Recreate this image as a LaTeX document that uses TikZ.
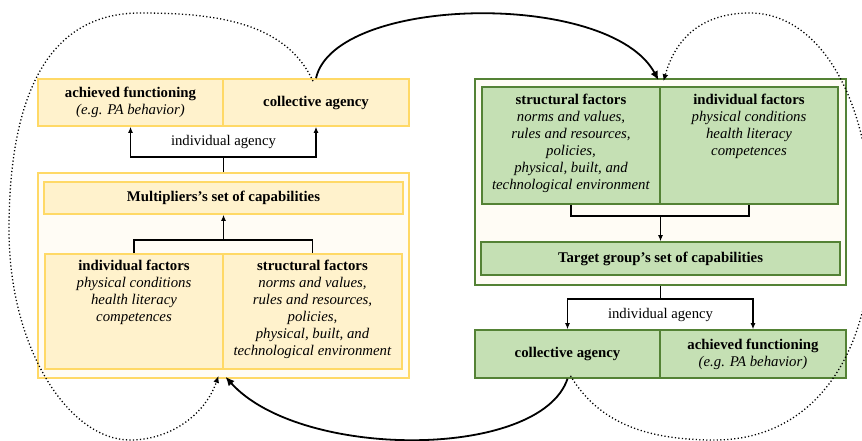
\documentclass[tikz,border=0pt]{standalone}
\usepackage{fontspec}
\setmainfont{Liberation Serif}
\usetikzlibrary{arrows.meta,calc}
\definecolor{yfill}{HTML}{FFF2CC}
\definecolor{yline}{HTML}{FFD966}
\definecolor{cream}{HTML}{FFFCF5}
\definecolor{gfill}{HTML}{C5E0B4}
\definecolor{gline}{HTML}{548235}
\tikzset{
  ybox/.style={draw=yline,fill=yfill,line width=1.6pt,inner sep=0pt},
  ycont/.style={draw=yline,fill=cream,line width=1.6pt,inner sep=0pt},
  gbox/.style={draw=gline,fill=gfill,line width=1.6pt,inner sep=0pt},
  gcont/.style={draw=gline,fill=cream,line width=1.6pt,inner sep=0pt},
  txt/.style={align=center,inner sep=1pt,font=\fontsize{14.8}{17}\selectfont},
  conn/.style={line width=1.3pt},
  arr/.style={line width=1.1pt,-{Latex[length=6pt,width=5pt]}},
  bigarr/.style={line width=1.8pt,-{Latex[length=9pt,width=8pt]}},
  dotarr/.style={line width=1.3pt,dash pattern=on 1.2pt off 2.3pt,-{Latex[length=7pt,width=6pt]}},
  lbl/.style={fill=white,inner sep=1pt,font=\fontsize{14.7}{15}\selectfont}
}
\begin{document}
\begin{tikzpicture}[x=1pt,y=-1pt]
\useasboundingbox (0,0) rectangle (862,440);
\clip (0,0) rectangle (862,440);
% ---------- left (multipliers) ----------
\node[ycont,minimum width=371pt,minimum height=205pt] (lout) at (223.5,275.5) {};
\node[ybox,minimum width=359pt,minimum height=32pt] (mult) at (223.5,198) {};
\node[txt] (multt) at (mult.center) {\textbf{Multipliers’s set of capabilities}};
\node[ybox,minimum width=178pt,minimum height=115pt] (lif) at (134,311.5) {};
\node[ybox,minimum width=179pt,minimum height=115pt] (lsf) at (312.5,311.5) {};
\node[txt,anchor=north] (lift) at ([yshift=-6pt]lif.north) {\textbf{individual factors}\\\textit{physical conditions}\\\textit{health literacy}\\\textit{competences}};
\node[txt,anchor=north] (lsft) at ([yshift=-6pt]lsf.north) {\textbf{structural factors}\\\textit{norms and values,}\\\textit{rules and resources,}\\\textit{policies,}\\\textit{physical, built, and}\\\textit{technological environment}};
\node[ybox,minimum width=185pt,minimum height=47pt] (af) at (130.5,102.5) {};
\node[txt] (aft) at (af.center) {\textbf{achieved functioning}\\\textit{(e.g. PA behavior)}};
\node[ybox,minimum width=186pt,minimum height=47pt] (ca) at (316,102.5) {};
\node[txt] (cat) at (ca.center) {\textbf{collective agency}};
% left connectors
\coordinate (lb) at (223.5,240);
\draw[conn] (lif.north) |- (lb) -| (lsf.north);
\draw[arr] (lb) -- (mult.south);
\coordinate (lj) at (223.5,157);
\draw[conn] (lout.north) -- (lj);
\draw[arr] (lj) -| (af.south);
\draw[arr] (lj) -| (ca.south);
\node[lbl] (la) at (223.5,142) {individual agency};
% ---------- right (target group) ----------
\node[gcont,minimum width=371pt,minimum height=206pt] (rout) at (660.5,182) {};
\node[gbox,minimum width=178pt,minimum height=117pt] (rsf) at (571,145.5) {};
\node[gbox,minimum width=178pt,minimum height=117pt] (rif) at (749,145.5) {};
\node[txt,anchor=north] (rsft) at ([yshift=-7pt]rsf.north) {\textbf{structural factors}\\\textit{norms and values,}\\\textit{rules and resources,}\\\textit{policies,}\\\textit{physical, built, and}\\\textit{technological environment}};
\node[txt,anchor=north] (rift) at ([yshift=-7pt]rif.north) {\textbf{individual factors}\\\textit{physical conditions}\\\textit{health literacy}\\\textit{competences}};
\node[gbox,minimum width=359pt,minimum height=33pt] (tgt) at (660.5,258.5) {};
\node[txt] (tgtt) at (tgt.center) {\textbf{Target group’s set of capabilities}};
\node[gbox,minimum width=185pt,minimum height=48pt] (rca) at (567.5,354) {};
\node[txt] (rcat) at (rca.center) {\textbf{collective agency}};
\node[gbox,minimum width=186pt,minimum height=48pt] (raf) at (753,354) {};
\node[txt] (raft) at (raf.center) {\textbf{achieved functioning}\\\textit{(e.g. PA behavior)}};
% right connectors
\coordinate (rb) at (660.5,216);
\draw[conn] (rsf.south) |- (rb) -| (rif.south);
\draw[arr] (rb) -- (tgt.north);
\coordinate (rj) at (660.5,299);
\draw[conn] (rout.south) -- (rj);
\draw[arr] (rj) -| (rca.north);
\draw[arr] (rj) -| (raf.north);
\node[lbl] (ra) at (660.5,315) {individual agency};
% ---------- curved arrows ----------
\draw[bigarr] (ca.north) .. controls (335,-5) and (610,-10) .. ([xshift=-2pt,yshift=-2pt]rout.north);
\draw[bigarr] (rca.south) .. controls (540,460) and (300,460) .. ([xshift=2pt,yshift=2pt]lout.south);
\draw[dotarr] ([xshift=-3pt,yshift=-3pt]ca.north) .. controls (285,20) and (210,13) .. (140,13)
  .. controls (40,13) and (9,110) .. (9,230)
  .. controls (9,350) and (70,440) .. (130,440)
  .. controls (170,440) and (205,415) .. ([xshift=-5pt,yshift=3pt]lout.south);
\draw[dotarr] ([xshift=3pt,yshift=3pt]rca.south) .. controls (600,425) and (650,440) .. (715,440)
  .. controls (810,440) and (872,360) .. (872,230)
  .. controls (872,100) and (820,13) .. (750,13)
  .. controls (700,13) and (675,40) .. ([xshift=3pt,yshift=-3pt]rout.north);
\end{tikzpicture}
\end{document}
